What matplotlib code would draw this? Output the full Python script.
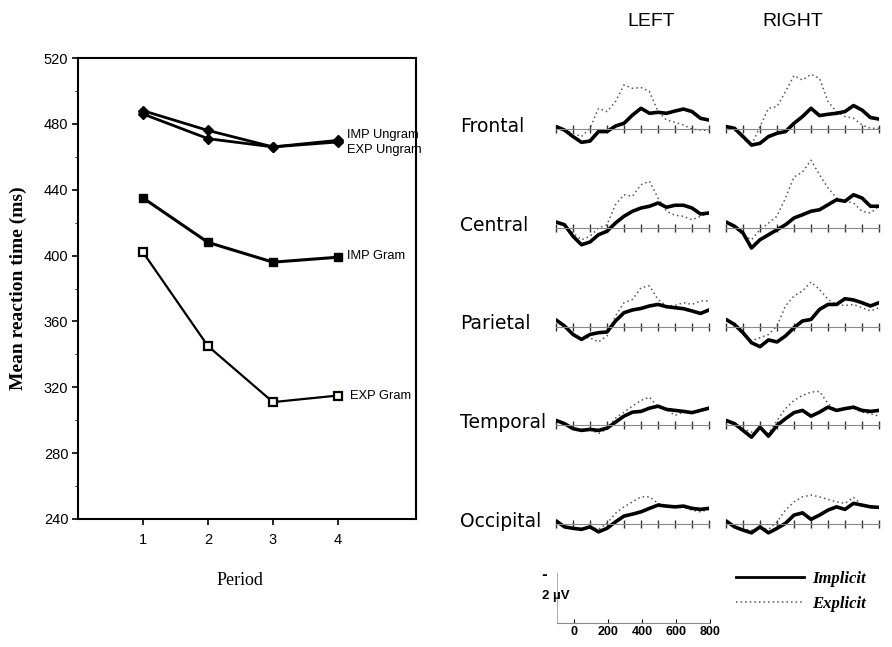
import matplotlib
matplotlib.use("Agg")
import matplotlib.pyplot as plt
from matplotlib.lines import Line2D

# ---- left: mean reaction time by period ----
periods = [1, 2, 3, 4]
imp_ungram = [488, 476, 466, 470]
exp_ungram = [486, 471, 466, 469]
imp_gram = [435, 408, 396, 399]
exp_gram = [402, 345, 311, 315]

# ---- right: ERP waveforms (uV), every 50 ms from -100 to 800 ----
erp_times = list(range(-100, 801, 50))
regions = ["Frontal", "Central", "Parietal", "Temporal", "Occipital"]
hemispheres = ["LEFT", "RIGHT"]

frontal_L_imp = [0.11, -0.03, -0.29, -0.52, -0.47, -0.09, -0.09, 0.13, 0.24, 0.57, 0.84, 0.64, 0.68, 0.64, 0.73, 0.81, 0.71, 0.44, 0.37]
frontal_L_exp = [0.11, -0.03, -0.16, -0.29, 0.04, 0.84, 0.71, 1.11, 1.77, 1.64, 1.67, 1.51, 0.71, 0.37, 0.28, 0.17, 0.01, -0.03, -0.05]
frontal_R_imp = [0.11, 0.04, -0.29, -0.63, -0.56, -0.29, -0.16, -0.09, 0.24, 0.51, 0.84, 0.55, 0.60, 0.64, 0.71, 0.95, 0.77, 0.47, 0.41]
frontal_R_exp = [0.11, -0.03, -0.36, -0.63, 0.11, 0.84, 0.91, 1.51, 2.15, 1.97, 2.20, 2.04, 1.11, 0.71, 0.51, 0.44, 0.17, 0.04, 0.04]

central_L_imp = [0.24, 0.13, -0.33, -0.67, -0.56, -0.27, -0.13, 0.20, 0.47, 0.67, 0.80, 0.87, 1.00, 0.83, 0.91, 0.91, 0.80, 0.56, 0.60]
central_L_exp = [0.24, 0.07, -0.20, -0.47, -0.33, 0.00, 0.13, 0.93, 1.33, 1.27, 1.73, 1.87, 1.20, 0.67, 0.51, 0.47, 0.33, 0.47, 0.60]
central_R_imp = [0.24, 0.07, -0.20, -0.80, -0.47, -0.27, -0.07, 0.13, 0.40, 0.53, 0.67, 0.73, 0.93, 1.13, 1.07, 1.33, 1.20, 0.87, 0.87]
central_R_exp = [0.24, 0.07, -0.27, -0.47, -0.07, 0.20, 0.47, 1.20, 2.04, 2.24, 2.71, 2.13, 1.60, 1.20, 1.07, 1.00, 0.67, 0.60, 0.87]

parietal_L_imp = [0.27, 0.03, -0.31, -0.51, -0.31, -0.24, -0.21, 0.23, 0.56, 0.67, 0.73, 0.83, 0.89, 0.80, 0.76, 0.72, 0.63, 0.53, 0.67]
parietal_L_exp = [0.27, 0.00, -0.31, -0.44, -0.44, -0.61, -0.37, 0.43, 0.96, 1.09, 1.56, 1.63, 1.09, 0.83, 0.85, 0.96, 0.89, 1.03, 1.03]
parietal_R_imp = [0.29, 0.09, -0.24, -0.64, -0.80, -0.53, -0.61, -0.37, -0.04, 0.23, 0.29, 0.69, 0.89, 0.89, 1.12, 1.07, 0.96, 0.83, 0.96]
parietal_R_exp = [0.29, 0.03, -0.31, -0.57, -0.44, -0.31, 0.03, 0.83, 1.23, 1.43, 1.79, 1.49, 1.09, 0.89, 0.85, 0.89, 0.76, 0.63, 0.76]

temporal_L_imp = [0.20, 0.07, -0.13, -0.20, -0.16, -0.20, -0.11, 0.13, 0.37, 0.53, 0.56, 0.69, 0.77, 0.64, 0.60, 0.56, 0.51, 0.60, 0.69]
temporal_L_exp = [0.20, 0.07, -0.11, -0.16, -0.13, -0.33, -0.13, 0.29, 0.53, 0.77, 1.00, 1.13, 0.73, 0.64, 0.40, 0.53, 0.53, 0.60, 0.67]
temporal_R_imp = [0.20, 0.07, -0.20, -0.47, -0.07, -0.43, 0.00, 0.27, 0.51, 0.60, 0.37, 0.53, 0.73, 0.60, 0.67, 0.73, 0.60, 0.56, 0.60]
temporal_R_exp = [0.20, 0.00, -0.13, -0.27, -0.13, -0.33, 0.20, 0.67, 1.00, 1.20, 1.33, 1.36, 0.87, 0.60, 0.67, 0.69, 0.53, 0.47, 0.37]

occipital_L_imp = [0.13, -0.11, -0.17, -0.21, -0.11, -0.31, -0.17, 0.09, 0.32, 0.40, 0.49, 0.63, 0.76, 0.72, 0.69, 0.72, 0.63, 0.59, 0.63]
occipital_L_exp = [0.13, -0.11, -0.17, -0.21, -0.11, -0.21, 0.03, 0.43, 0.69, 0.89, 1.09, 1.09, 0.83, 0.72, 0.69, 0.67, 0.56, 0.49, 0.59]
occipital_R_imp = [0.13, -0.11, -0.24, -0.35, -0.11, -0.35, -0.17, 0.03, 0.36, 0.45, 0.19, 0.36, 0.56, 0.69, 0.59, 0.83, 0.76, 0.69, 0.67]
occipital_R_exp = [0.13, -0.11, -0.21, -0.24, -0.17, -0.21, 0.09, 0.56, 0.89, 1.09, 1.16, 1.09, 0.99, 0.89, 0.83, 1.07, 0.76, 0.69, 0.67]

erp = {
    ("Frontal", "LEFT"): (frontal_L_imp, frontal_L_exp),
    ("Frontal", "RIGHT"): (frontal_R_imp, frontal_R_exp),
    ("Central", "LEFT"): (central_L_imp, central_L_exp),
    ("Central", "RIGHT"): (central_R_imp, central_R_exp),
    ("Parietal", "LEFT"): (parietal_L_imp, parietal_L_exp),
    ("Parietal", "RIGHT"): (parietal_R_imp, parietal_R_exp),
    ("Temporal", "LEFT"): (temporal_L_imp, temporal_L_exp),
    ("Temporal", "RIGHT"): (temporal_R_imp, temporal_R_exp),
    ("Occipital", "LEFT"): (occipital_L_imp, occipital_L_exp),
    ("Occipital", "RIGHT"): (occipital_R_imp, occipital_R_exp),
}
scale_ticks = [0, 200, 400, 600, 800]

W, H = 892, 647
narrow = ["Liberation Sans", "DejaVu Sans"]
serif = ["Liberation Serif", "DejaVu Serif"]

fig = plt.figure(figsize=(W / 100, H / 100), dpi=100)
fig.patch.set_facecolor("white")

# left chart
ax = fig.add_axes([78 / W, 1 - 519 / H, 338 / W, 461 / H])
ax.plot(periods, imp_ungram, color="k", lw=2.0, marker="D", ms=5)
ax.plot(periods, exp_ungram, color="k", lw=2.0, marker="D", ms=5)
ax.plot(periods, imp_gram, color="k", lw=2.2, marker="s", ms=6)
ax.plot(periods, exp_gram, color="k", lw=1.6, marker="s", ms=6,
        mfc="#fbfbe8", mew=1.6)
ax.set_xlim(0, 5.2)
ax.set_ylim(240, 520)
ax.set_xticks(periods)
ax.set_yticks(range(240, 521, 40))
ax.set_yticks(range(260, 520, 40), minor=True)
ax.tick_params(direction="out", length=4, width=1.2, labelsize=10.5)
ax.tick_params(axis="x", pad=6)
ax.tick_params(axis="y", pad=3)
ax.tick_params(which="minor", length=2)
for lab in ax.get_xticklabels() + ax.get_yticklabels():
    lab.set_family(narrow)
for s in ax.spines.values():
    s.set_linewidth(1.5)
ax.set_ylabel("Mean reaction time (ms)", family=serif, fontweight="bold",
              fontsize=14)
ax.yaxis.set_label_coords(-0.15, 0.5)
ax.set_xlabel("Period", family=serif, fontsize=13)
ax.xaxis.set_label_coords(0.479, -0.115)

lab_x = 4.14
ax.text(lab_x, imp_ungram[-1] + 3.5, "IMP Ungram", va="center", fontsize=9.3, family=narrow)
ax.text(lab_x, exp_ungram[-1] - 5, "EXP Ungram", va="center", fontsize=9.3, family=narrow)
ax.text(lab_x, imp_gram[-1] + 1, "IMP Gram", va="center", fontsize=9.3, family=narrow)
ax.text(lab_x + 0.04, exp_gram[-1], "EXP Gram", va="center", fontsize=9.3, family=narrow)

# ERP grid
col_x = [556, 726]
col_title_x = [651, 793]
for j, hemi in enumerate(hemispheres):
    fig.text(col_title_x[j] / W, 1 - 21 / H, hemi, ha="center", va="center",
             fontsize=14, family=narrow)

for i, region in enumerate(regions):
    base = 129.3 + 98.7 * i
    fig.text(460 / W, 1 - (base - 3) / H, region, va="center", ha="left",
             fontsize=13.5)
    for j, hemi in enumerate(hemispheres):
        a = fig.add_axes([col_x[j] / W, 1 - (base + 25) / H, 153 / W, 100 / H])
        a.patch.set_alpha(0)
        imp, exp = erp[(region, hemi)]
        a.plot(erp_times, exp, color="#555555", lw=1.1, ls=(0, (1, 2)))
        a.plot(erp_times, imp, color="k", lw=2.6, solid_capstyle="round",
               solid_joinstyle="round")
        a.set_xlim(-100, 800)
        a.set_ylim(-1, 3)
        for s in ["top", "right", "left"]:
            a.spines[s].set_visible(False)
        a.spines["bottom"].set_position(("data", 0))
        a.spines["bottom"].set_color("#888888")
        a.spines["bottom"].set_linewidth(0.8)
        a.set_xticks(range(-100, 801, 100))
        a.set_yticks([])
        a.tick_params(axis="x", direction="inout", length=6, width=1,
                      color="#333333", labelbottom=False)

# scale bar
sb = fig.add_axes([557 / W, 1 - 623 / H, 153 / W, 50 / H])
sb.patch.set_alpha(0)
sb.set_xlim(-100, 800)
sb.set_ylim(0, 2)
for s in ["top", "right"]:
    sb.spines[s].set_visible(False)
sb.spines["left"].set_color("#aaaaaa")
sb.spines["left"].set_linewidth(0.7)
sb.spines["bottom"].set_color("#888888")
sb.spines["bottom"].set_linewidth(0.8)
sb.set_yticks([])
sb.set_xticks(scale_ticks)
sb.tick_params(axis="x", direction="in", length=3, pad=2, labelsize=9)
for lab in sb.get_xticklabels():
    lab.set_family(narrow)
    lab.set_fontweight("bold")
fig.text(541 / W, 1 - 575 / H, "-", fontsize=10, fontweight="bold", va="center")
fig.text(542 / W, 1 - 596 / H, "2 \u00b5V", fontsize=9.5, fontweight="bold",
         va="center", family=narrow)

# legend
handles = [Line2D([], [], color="k", lw=2.0),
           Line2D([], [], color="#555555", lw=1.1, ls=(0, (1, 2)))]
fig.legend(handles, ["Implicit", "Explicit"], loc="upper left",
           bbox_to_anchor=(736 / W, 1 - 571 / H), frameon=False,
           handlelength=4.1, handletextpad=0.45, labelspacing=0.55,
           borderpad=0, borderaxespad=0,
           prop={"family": serif, "weight": "bold", "style": "italic", "size": 12})

fig.savefig("out.png", dpi=100, facecolor="white")
